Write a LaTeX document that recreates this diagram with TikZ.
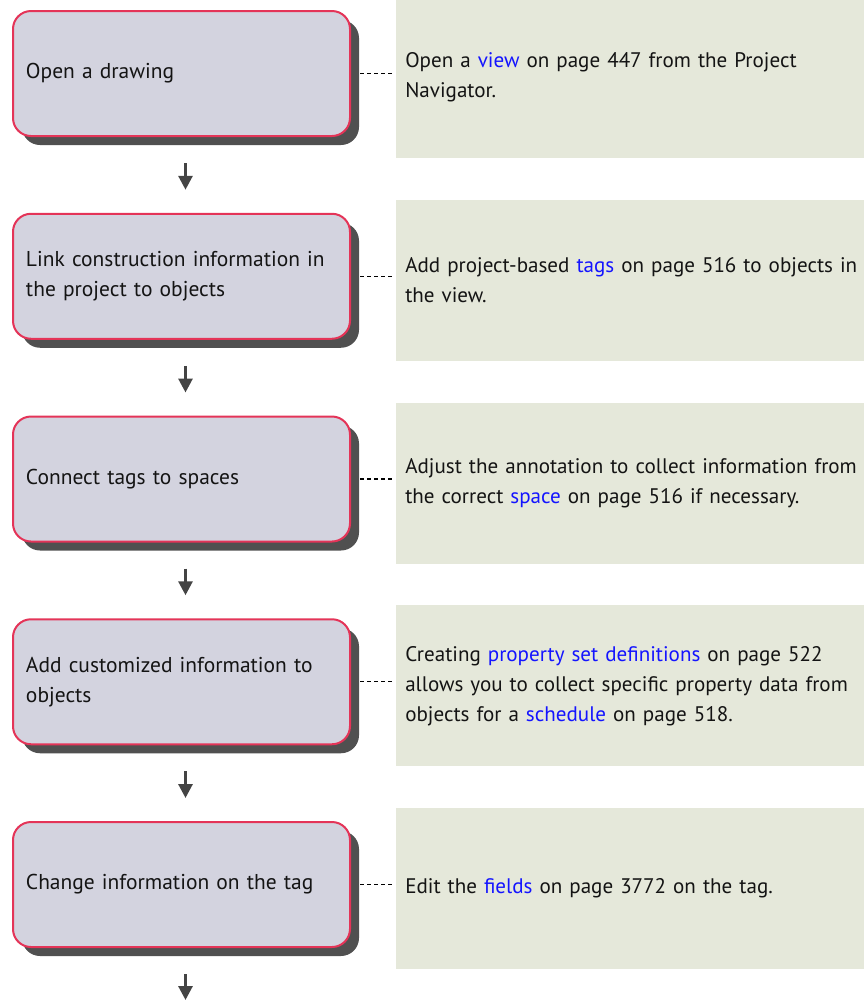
\documentclass[tikz,border=0pt]{standalone}
\usepackage{fontspec}
\setmainfont{PT Sans}
\usetikzlibrary{arrows.meta,shadows,calc}
\definecolor{boxfill}{RGB}{211,211,223}
\definecolor{boxborder}{RGB}{228,52,88}
\definecolor{shadowgray}{RGB}{80,80,80}
\definecolor{notefill}{RGB}{229,232,218}
\definecolor{linkblue}{RGB}{20,20,255}
\definecolor{arrowgray}{RGB}{68,68,68}
\definecolor{txt}{RGB}{20,20,20}
\newcommand{\lnk}[1]{\textcolor{linkblue}{#1}}
\begin{document}
\begin{tikzpicture}[x=0.75pt,y=-0.75pt,
  stepbox/.style={draw=boxborder, line width=1.5pt, fill=boxfill, rounded corners=13.5pt,
    minimum width=252.75pt, minimum height=93.75pt, text width=233.25pt, inner xsep=9.75pt,
    inner ysep=0pt, align=left, text=txt, font=\fontsize{16.1}{22.5}\selectfont,
    drop shadow={shadow xshift=6.75pt, shadow yshift=-6.75pt, fill=shadowgray, opacity=1}},
  notebox/.style={fill=notefill, anchor=west, minimum height=120.75pt,
    text width=352pt, inner xsep=6.75pt, inner ysep=0pt, align=left, text=txt,
    font=\fontsize{15.8}{22.5}\selectfont},
  conn/.style={draw=black, line width=0.9pt, dash pattern=on 3pt off 2.25pt},
  flow/.style={draw=arrowgray, line width=2.25pt, -{Triangle[width=10.5pt,length=10.5pt]}}
]
\useasboundingbox (0,0) rectangle (864,1001);

% note boxes
\node[notebox] (g1) at (396,77.5) {Open a \lnk{view} on page 447 from the Project\\Navigator.};
\node[notebox] (g2) at (396,280.25) {Add project-based \lnk{tags} on page 516 to objects in\\the view.};
\node[notebox] (g3) at (396,483) {Adjust the annotation to collect information from\\the correct \lnk{space} on page 516 if necessary.};
\node[notebox] (g4) at (396,685.75) {Creating \lnk{property set definitions} on page 522\\allows you to collect specific property data from\\objects for a \lnk{schedule} on page 518.};
\node[notebox] (g5) at (396,888.5) {Edit the \lnk{fields} on page 3772 on the tag.};

% step boxes
\node[stepbox] (b1) at (181.5,73.5) {Open a drawing};
\node[stepbox] (b2) at (181.5,276.25) {Link construction information in\\the project to objects};
\node[stepbox] (b3) at (181.5,479) {Connect tags to spaces};
\node[stepbox] (b4) at (181.5,681.75) {Add customized information to\\objects};
\node[stepbox] (b5) at (181.5,884.5) {Change information on the tag};

\coordinate (end) at (185.5,1001);

% dashed connectors
\foreach \i in {1,...,5}{
  \draw[conn, shorten >=2.25pt] ([xshift=6.75pt]b\i.east) -- (b\i.east -| g\i.west);
}

% flow arrows
\foreach \i/\j in {1/2,2/3,3/4,4/5}{
  \draw[flow, shorten <=19.5pt, shorten >=17.25pt] ([xshift=3pt]b\i.south) -- ([xshift=3pt]b\j.north);
}
\draw[flow, shorten <=19.5pt, shorten >=0.75pt] ([xshift=3pt]b5.south) -- (end);
\end{tikzpicture}
\end{document}
